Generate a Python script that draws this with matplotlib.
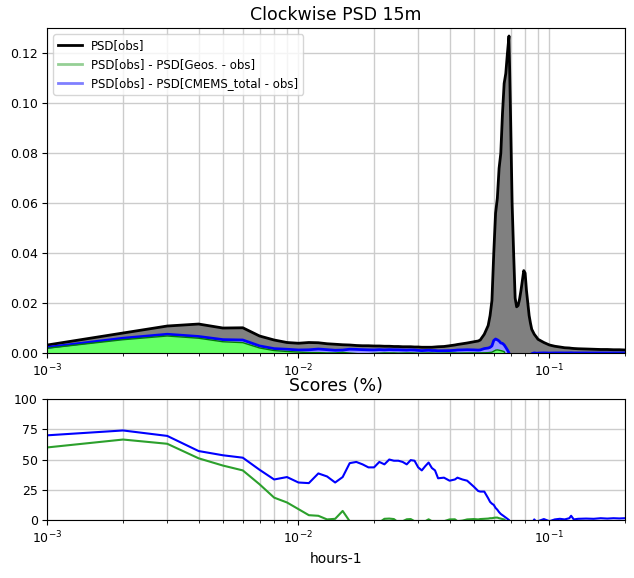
import numpy as np
import matplotlib
matplotlib.use("Agg")
import matplotlib.pyplot as plt
from matplotlib.lines import Line2D

# frequency index (units of 1e-3 cycles per hour)
freq_k = [1, 2, 3, 4, 5, 6, 7, 8, 9, 10,
          11, 12, 13, 14, 15, 16, 17, 18, 19, 20,
          21, 22, 23, 24, 25, 26, 27, 28, 29, 30,
          31, 32, 33, 34, 35, 36, 38, 40, 42, 43,
          45, 47, 50, 52, 53, 55, 57, 58, 59, 60,
          61, 62, 63, 64, 65, 66, 67, 68, 69, 70,
          71, 72, 73, 74, 75, 76, 77, 78, 79, 80,
          81, 82, 83, 84, 85, 87, 89, 90, 95, 100,
          105, 110, 115, 120, 122, 125, 130, 140, 150, 160,
          170, 180, 190, 200]

psd_obs = [0.0032, 0.0080, 0.0108, 0.0116, 0.0100, 0.0101, 0.0068, 0.0052, 0.0042, 0.0039,
           0.0042, 0.0041, 0.0037, 0.0035, 0.0033, 0.0032, 0.0030, 0.0029, 0.0029, 0.0028,
           0.0028, 0.0027, 0.0027, 0.0026, 0.0026, 0.0025, 0.0025, 0.0025, 0.0024, 0.0024,
           0.0023, 0.0023, 0.0023, 0.0023, 0.0024, 0.0025, 0.0026, 0.0029, 0.0032, 0.0034,
           0.0037, 0.0040, 0.0045, 0.0048, 0.0052, 0.0075, 0.0110, 0.0150, 0.0210, 0.0400,
           0.0560, 0.0620, 0.0740, 0.0800, 0.0960, 0.1080, 0.1120, 0.1200, 0.1270, 0.0950,
           0.0600, 0.0400, 0.0220, 0.0185, 0.0190, 0.0215, 0.0250, 0.0290, 0.0330, 0.0320,
           0.0250, 0.0200, 0.0150, 0.0120, 0.0095, 0.0075, 0.0062, 0.0055, 0.0042, 0.0032,
           0.0027, 0.0024, 0.0021, 0.0020, 0.0019, 0.0018, 0.0017, 0.0016, 0.0015, 0.0014,
           0.0014, 0.0013, 0.0013, 0.0012]

# scores (%) : 100 * (1 - PSD[err] / PSD[obs])
score_cmems = [70, 74, 69.5, 57, 53.5, 51.5, 41.5, 33.5, 35.5, 31,
               30.5, 38.5, 36, 31, 35.5, 47, 48, 46, 43.5, 43.5,
               48, 46, 50, 49, 49, 48, 46, 49.5, 49, 43.5,
               41, 44.5, 47.5, 43, 41, 34.5, 35, 32.5, 33.5, 35,
               33.5, 32.5, 27.5, 24, 23.5, 23.5, 18, 15, 13.5, 12.5,
               10, 8.5, 6.5, 5, 4, 3, 2, 1, 0, -4,
               -8, -12, -15, -16, -18, -18, -17, -16, -15, -14,
               -12, -10, -8, -6, -3, 0.5, -2, -1, 0.8, -1,
               0.5, 1, 0.5, 1.5, 3.5, 0.5, 1, 1.2, 1, 1.5,
               1.2, 1.5, 1.3, 1.5]

score_geos = [60, 66.5, 63, 51, 45, 41, 29.5, 18.5, 14.5, 9,
              4, 3.5, 0.5, 1, 7.5, -1, -8, -15, -10, -5,
              -2, 1, 1.2, 0.8, -2, -1, 0.6, 0.8, -1, -3,
              -2, -1, 0.6, -1, -2, -3, -1, 0.5, 0.6, -1,
              -0.5, 0.5, 0.8, 0.5, 0.8, 1, 1.2, 1.5, 1.5, 1.8,
              2, 2, 1.5, 1.2, 0.8, 0.5, -1, -3, -5, -8,
              -12, -15, -18, -20, -20, -20, -20, -20, -20, -20,
              -20, -20, -20, -20, -20, -20, -20, -20, -20, -20,
              -20, -20, -20, -20, -20, -20, -20, -20, -20, -20,
              -20, -20, -20, -20]

freq = np.array(freq_k) * 1e-3
obs = np.array(psd_obs)
psd_geos = obs * np.array(score_geos) / 100.
psd_cmems = obs * np.array(score_cmems) / 100.

fig = plt.figure(figsize=(6.34, 5.78), dpi=100)
ax1 = fig.add_axes([0.0749, 0.3893, 0.9109, 0.5614])
ax2 = fig.add_axes([0.0749, 0.1003, 0.9109, 0.2094])

# PSD panel
ax1.fill_between(freq, 0, obs, color='grey', lw=0)
ax1.fill_between(freq, 0, psd_cmems, color='#9999ff', lw=0)
ax1.fill_between(freq, 0, psd_geos, color='#66ff66', lw=0)
ax1.plot(freq, obs, color='k', lw=2)
ax1.plot(freq, psd_cmems, color='b', lw=2)
ax1.plot(freq, psd_geos, color='g', lw=1)
ax1.set_xscale('log')
ax1.set_xlim(1e-3, 0.2)
ax1.set_ylim(0, 0.13)
ax1.set_yticks([0, 0.02, 0.04, 0.06, 0.08, 0.10, 0.12])
ax1.grid(True, which='both', color='#cccccc', lw=1)
ax1.set_axisbelow(True)
ax1.set_title('Clockwise PSD 15m', fontsize=12.5)
ax1.tick_params(labelsize=9)

handles = [Line2D([], [], color='k', lw=2),
           Line2D([], [], color='tab:green', lw=2, alpha=0.5),
           Line2D([], [], color='b', lw=2, alpha=0.5)]
ax1.legend(handles, ['PSD[obs]', 'PSD[obs] - PSD[Geos. - obs]',
                     'PSD[obs] - PSD[CMEMS_total - obs]'],
           loc='upper left', fontsize=8.5)

# scores panel
ax2.plot(freq, score_cmems, color='b', lw=1.5)
ax2.plot(freq, score_geos, color='tab:green', lw=1.5)
ax2.set_xscale('log')
ax2.set_xlim(1e-3, 0.2)
ax2.set_ylim(0, 100)
ax2.set_yticks([0, 25, 50, 75, 100])
ax2.grid(True, which='both', color='#cccccc', lw=1)
ax2.set_axisbelow(True)
ax2.set_title('Scores (%)', fontsize=12.5)
ax2.set_xlabel('hours-1', fontsize=10)
ax2.tick_params(labelsize=9)

fig.savefig('out.png', dpi=100)
